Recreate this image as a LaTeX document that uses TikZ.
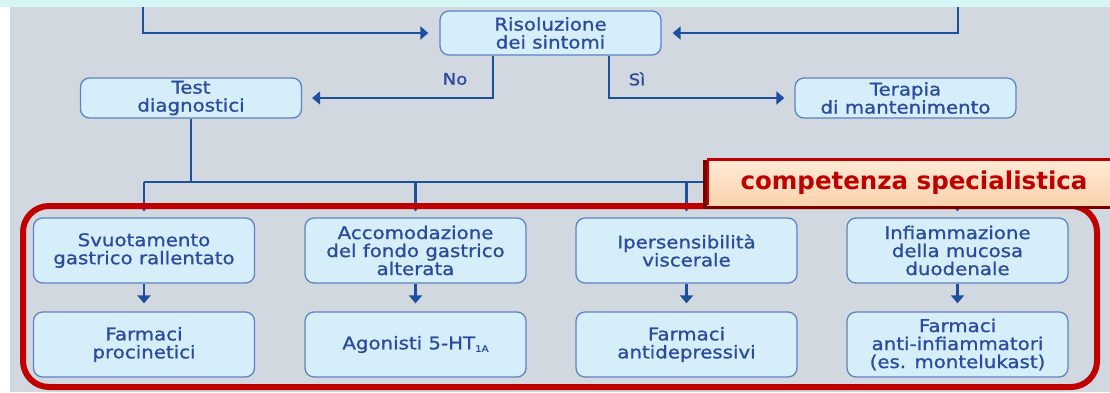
\documentclass[tikz,border=0pt]{standalone}
\usepackage{fontspec}
\setmainfont[FakeStretch=1.13,FakeBold=1.1]{DejaVu Sans}
\newfontfamily\tagfont{DejaVu Sans}
\usetikzlibrary{arrows.meta,positioning,calc}

\definecolor{bgGray}{HTML}{D2D8DF}
\definecolor{stripCyan}{HTML}{D6F6F6}
\definecolor{boxFill}{HTML}{D5EEFA}
\definecolor{boxLine}{HTML}{5E83C0}
\definecolor{boxText}{HTML}{2C4B9C}
\definecolor{flowBlue}{HTML}{1E4F9F}
\definecolor{frameRed}{HTML}{C00000}
\definecolor{shadowRed}{HTML}{7A0000}
\definecolor{tagTop}{HTML}{FFEBD6}
\definecolor{tagBottom}{HTML}{F8D2AD}

\tikzset{
  flowbox/.style={draw=boxLine, line width=1.3pt, fill=boxFill, rounded corners=9pt,
    minimum width=221pt, inner sep=0pt, align=center, text=boxText,
    font=\fontsize{17.5}{18}\selectfont},
  flowline/.style={draw=flowBlue, line width=2.8pt},
  flowarrow/.style={flowline, -{Triangle[length=8pt,width=13pt]}},
  branchlabel/.style={text=boxText, font=\fontsize{16}{16}\selectfont, inner sep=0pt}
}

\begin{document}
\begin{tikzpicture}[x=1pt,y=-1pt]
  \useasboundingbox (0,0) rectangle (1110,392);
  % backdrop
  \fill[bgGray] (0,0) rectangle (1110,392);
  \fill[white] (0,0) rectangle (10,392);
  \fill[stripCyan] (0,0) rectangle (1110,7);

  % upper part of the chart
  \node[flowbox, minimum height=44pt] (ris) at (550.5,33) {Risoluzione\\dei sintomi};
  \node[flowbox, minimum height=40pt] (test) at (191,98) {Test\\diagnostici};
  \node[flowbox, minimum height=40pt] (ter) at (905.5,98) {Terapia\\di mantenimento};

  % mechanisms
  \node[flowbox, minimum height=65pt] (m1) at (144,250.5) {Svuotamento\\gastrico rallentato};
  \node[flowbox, minimum height=65pt] (m2) at (415.5,250.5) {Accomodazione\\del fondo gastrico\\alterata};
  \node[flowbox, minimum height=65pt] (m3) at (686.5,250.5) {Ipersensibilità\\viscerale};
  \node[flowbox, minimum height=65pt] (m4) at (957.5,250.5) {Infiammazione\\della mucosa\\duodenale};

  % treatments
  \node[flowbox, minimum height=65pt] (t1) at (144,344.5) {Farmaci\\procinetici};
  \node[flowbox, minimum height=65pt] (t2) at (415.5,344.5) {Agonisti 5-HT\raisebox{-2.5pt}{\fontsize{9}{9}\selectfont 1A}};
  \node[flowbox, minimum height=65pt] (t3) at (686.5,344.5) {Farmaci\\antidepressivi};
  \node[flowbox, minimum height=65pt] (t4) at (957.5,344.5) {Farmaci\\anti-infiammatori\\(es. montelukast)};

  % incoming flows from above
  \coordinate (inL) at (143,7);
  \coordinate (inR) at (958,7);
  \draw[flowarrow, shorten >=11pt] (inL) |- (ris.west);
  \draw[flowarrow, shorten >=11pt] (inR) |- (ris.east);

  % outcome branches
  \draw[flowarrow, shorten >=10pt] ([xshift=-57.5pt]ris.south) |- (test.east);
  \draw[flowarrow, shorten >=10pt] ([xshift=58.5pt]ris.south) |- (ter.west);
  \node[branchlabel] (no) at (455,79) {No};
  \node[branchlabel] (si) at (637,79) {Sì};

  % distribution bus towards the mechanisms
  \coordinate (bus) at (191,182);
  \draw[flowline] (test.south) -- (bus);
  \draw[flowline] (m1.north |- bus) -- (m4.north |- bus);
  \foreach \m in {m1,m2,m3,m4}
    \draw[flowarrow, shorten >=6pt] (\m.north |- bus) -- (\m.north);
  \foreach \m/\t in {m1/t1,m2/t2,m3/t3,m4/t4}
    \draw[flowarrow, shorten >=8pt] (\m.south) -- (\t.north);

  % specialist area frame
  \draw[frameRed, line width=6pt, rounded corners=26pt] (23,206) rectangle (1097,387);

  % specialist tag
  \fill[shadowRed] (703,160) rectangle (1116,209);
  \shade[top color=tagTop, bottom color=tagBottom] (707,159) rectangle (1116,205);
  \draw[frameRed, line width=3pt] (707,159.5) -- (1116,159.5);
  \draw[frameRed, line width=2pt] (708,159) -- (708,205);
  \node[text=frameRed, font=\tagfont\bfseries\fontsize{24.5}{25}\selectfont, inner sep=0pt]
    (tag) at (914,183) {competenza specialistica};
\end{tikzpicture}
\end{document}
